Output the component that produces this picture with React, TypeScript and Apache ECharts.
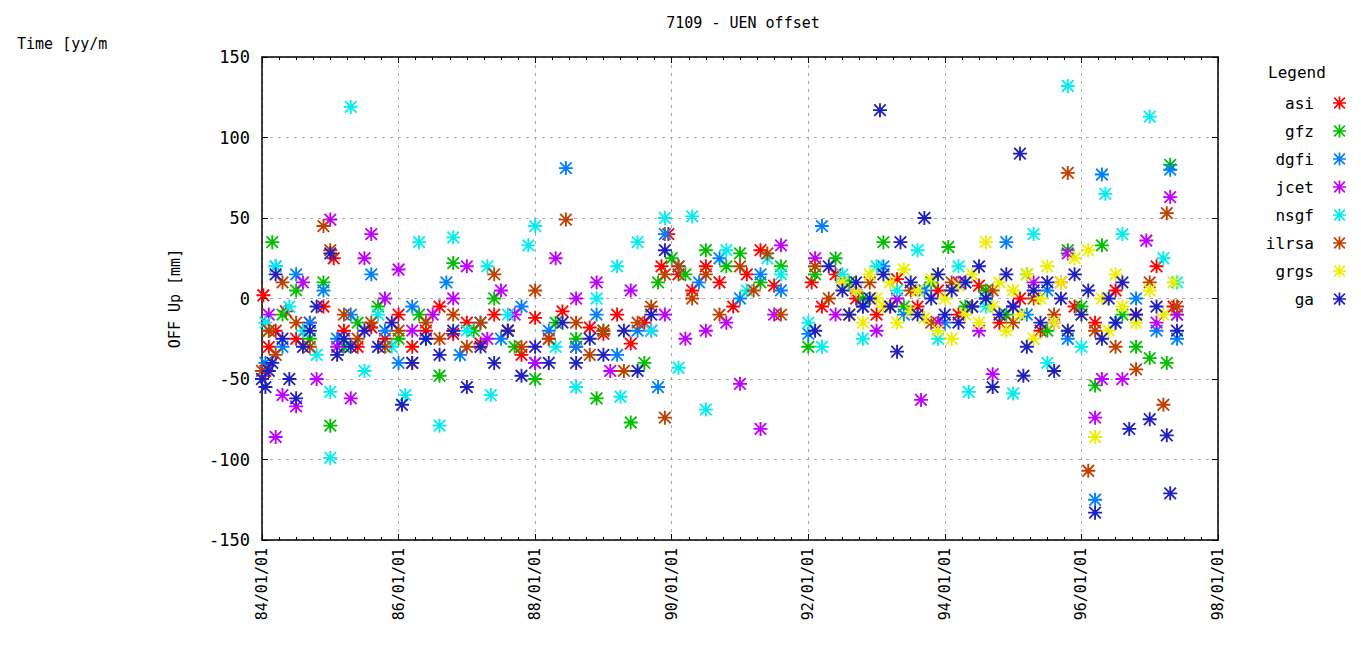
import React, { useRef, useEffect } from 'react';
import * as echarts from 'echarts';

const FONT = '"DejaVu Sans Mono", "Liberation Mono", monospace';
const STAR =
  'path://M0 5.2h12v1.6H0z M5.2 0h1.6v12h-1.6z M1.6 0.5L11.5 10.4L10.4 11.5L0.5 1.6z M10.4 0.5L11.5 1.6L1.6 11.5L0.5 10.4z';

const xTicks = [84, 86, 88, 90, 92, 94, 96, 98];
const yTicks = [-150, -100, -50, 0, 50, 100, 150];

const seriesNames = ['asi', 'gfz', 'dgfi', 'jcet', 'nsgf', 'ilrsa', 'grgs', 'ga'];
const seriesColors = ['#ff0000', '#00c000', '#0080ff', '#c000ff', '#00eeee', '#c04000', '#eeee00', '#2020c0'];

const asi = [[84.02,2],[84.05,-45],[84.1,-30],[84.2,-20],[84.35,-8],[84.5,-25],[84.7,-15],[84.9,-5],[85.05,25],[85.2,-20],[85.4,-30],[85.6,-18],[85.8,-25],[86.0,-10],[86.2,-30],[86.4,-20],[86.6,-5],[86.8,-22],[87.0,-15],[87.2,-28],[87.4,-10],[87.6,-20],[87.8,-35],[88.0,-12],[88.2,-25],[88.4,-8],[88.6,-30],[88.8,-18],[89.0,-22],[89.2,-10],[89.4,-28],[89.6,-15],[89.85,20],[89.95,40],[90.1,15],[90.3,5],[90.5,20],[90.7,10],[90.9,-5],[91.1,15],[91.3,30],[91.5,8],[92.05,10],[92.2,-5],[92.4,15],[92.7,0],[93.0,-10],[93.3,12],[93.6,-5],[93.9,5],[94.2,-10],[94.5,8],[94.8,-15],[95.1,0],[95.4,-20],[95.7,10],[95.9,-5],[96.2,-15],[96.5,5],[96.8,-10],[97.1,20],[97.35,-5]];
const gfz = [[84.1,-20],[84.15,35],[84.3,-10],[84.5,5],[84.7,-25],[84.9,10],[85.0,-79],[85.2,-30],[85.4,-15],[85.7,-5],[86.0,-25],[86.3,-10],[86.6,-48],[86.8,22],[87.1,-20],[87.4,0],[87.7,-30],[88.0,-50],[88.3,-15],[88.6,-25],[88.9,-62],[89.0,-20],[89.4,-77],[89.6,-40],[89.8,10],[90.0,25],[90.2,15],[90.5,30],[90.8,20],[91.0,28],[91.3,10],[91.6,20],[92.0,-30],[92.1,15],[92.4,25],[92.6,10],[92.8,0],[93.1,35],[93.4,-5],[93.8,10],[94.05,32],[94.3,-5],[94.6,5],[94.9,-10],[95.2,15],[95.5,-20],[95.8,30],[96.0,-5],[96.2,-54],[96.3,33],[96.6,-10],[96.8,-30],[97.0,-37],[97.25,-40],[97.3,83],[97.4,-10]];
const dgfi = [[84.05,-40],[84.2,20],[84.3,-30],[84.5,15],[84.7,-15],[84.9,5],[85.1,-25],[85.3,-10],[85.6,15],[85.8,-20],[86.0,-40],[86.2,-5],[86.4,-25],[86.7,10],[86.9,-35],[87.2,-15],[87.5,-25],[87.8,-5],[88.0,-40],[88.2,-20],[88.45,81],[88.6,-30],[88.9,-10],[89.2,-35],[89.5,-20],[89.8,-55],[89.9,40],[90.1,20],[90.4,10],[90.7,25],[91.0,0],[91.3,15],[91.6,5],[92.0,-22],[92.2,45],[92.5,10],[92.8,-5],[93.1,20],[93.4,-10],[93.7,5],[94.0,-15],[94.3,10],[94.6,0],[94.9,35],[95.2,-10],[95.5,5],[95.8,-25],[96.2,-125],[96.3,77],[96.5,-15],[96.8,0],[97.1,-20],[97.3,80],[97.4,-25]];
const jcet = [[84.1,-10],[84.2,-86],[84.3,-60],[84.5,-67],[84.6,10],[84.8,-50],[85.0,49],[85.1,-30],[85.3,-62],[85.5,25],[85.6,40],[85.8,0],[86.0,18],[86.2,-20],[86.5,-10],[86.8,0],[87.0,20],[87.3,-25],[87.5,5],[87.7,-10],[88.0,-40],[88.3,25],[88.6,0],[88.9,10],[89.1,-45],[89.4,5],[89.7,-20],[89.9,-10],[90.2,-25],[90.5,-20],[90.8,-15],[91.0,-53],[91.3,-81],[91.5,-10],[91.6,33],[92.1,25],[92.4,-10],[92.7,5],[93.0,-20],[93.3,0],[93.65,-63],[93.9,-15],[94.2,10],[94.5,-20],[94.7,-47],[95.0,-5],[95.3,10],[95.6,-15],[95.8,28],[96.2,-74],[96.3,-50],[96.6,-50],[96.95,36],[97.1,-15],[97.3,63],[97.4,-10]];
const nsgf = [[84.05,-15],[84.2,20],[84.4,-5],[84.6,-20],[84.8,-35],[85.0,-58],[85.0,-99],[85.3,119],[85.5,-45],[85.7,-10],[85.9,-30],[86.1,-60],[86.3,35],[86.6,-79],[86.8,38],[87.0,-20],[87.3,20],[87.35,-60],[87.6,-10],[87.9,33],[88.0,45],[88.3,-30],[88.6,-55],[88.9,0],[89.2,20],[89.25,-61],[89.5,35],[89.7,-20],[89.9,50],[90.1,-43],[90.3,51],[90.5,-69],[90.8,30],[91.1,5],[91.4,25],[91.6,15],[92.0,-15],[92.2,-30],[92.5,15],[92.8,-25],[93.0,20],[93.3,5],[93.6,30],[93.9,-25],[94.2,20],[94.35,-58],[94.6,-5],[95.0,-59],[95.3,40],[95.5,-40],[95.8,132],[96.0,-30],[96.35,65],[96.6,40],[97.0,113],[97.2,25],[97.4,10]];
const ilrsa = [[84.0,-45],[84.1,-20],[84.2,-35],[84.3,10],[84.5,-15],[84.7,-30],[84.9,45],[85.0,30],[85.2,-10],[85.4,-25],[85.6,-15],[85.8,-30],[86.0,-20],[86.2,-40],[86.4,-15],[86.6,-25],[86.8,-10],[87.0,-30],[87.2,-15],[87.4,15],[87.6,-20],[87.8,-30],[88.0,5],[88.2,-25],[88.45,49],[88.6,-15],[88.8,-35],[89.0,-20],[89.3,-45],[89.5,-15],[89.7,-5],[89.9,-74],[89.9,15],[90.1,20],[90.3,0],[90.5,15],[90.7,-10],[91.0,20],[91.2,5],[91.4,28],[91.6,-10],[92.1,20],[92.3,0],[92.6,-10],[92.9,10],[93.2,-5],[93.5,5],[93.8,-15],[94.1,10],[94.4,-5],[94.7,5],[95.0,-15],[95.3,0],[95.6,-10],[95.8,78],[96.1,-107],[96.2,-20],[96.5,-30],[96.8,-44],[97.0,10],[97.2,-66],[97.25,53],[97.4,-5]];
const grgs = [[92.5,10],[92.6,-10],[92.7,5],[92.8,-15],[92.9,15],[93.0,0],[93.1,-5],[93.2,10],[93.3,-15],[93.4,18],[93.5,-8],[93.6,5],[93.7,-12],[93.8,12],[93.9,-20],[94.0,0],[94.1,-25],[94.2,8],[94.3,-10],[94.4,15],[94.5,-15],[94.6,35],[94.7,-5],[94.8,10],[94.9,-20],[95.0,5],[95.1,-10],[95.2,15],[95.3,-25],[95.4,0],[95.5,20],[95.6,-15],[95.7,10],[95.8,-20],[95.9,25],[96.0,-10],[96.1,30],[96.2,-86],[96.3,0],[96.4,-20],[96.5,15],[96.6,-5],[96.8,-15],[97.0,5],[97.2,-10],[97.35,10]];
const ga = [[84.0,-50],[84.05,-55],[84.1,-45],[84.15,-40],[84.2,15],[84.3,-25],[84.4,-50],[84.5,-62],[84.6,-30],[84.7,-20],[84.8,-5],[85.0,28],[85.1,-35],[85.2,-25],[85.3,-30],[85.5,-20],[85.7,-30],[85.9,-15],[86.05,-66],[86.2,-40],[86.4,-25],[86.6,-35],[86.8,-20],[87.0,-55],[87.2,-30],[87.4,-40],[87.6,-20],[87.8,-48],[88.0,-30],[88.2,-40],[88.4,-15],[88.6,-40],[88.8,-25],[89.0,-35],[89.3,-20],[89.5,-45],[89.7,-10],[89.9,30],[92.1,-20],[92.3,20],[92.5,5],[92.6,-10],[92.7,10],[92.8,-5],[92.9,0],[93.05,117],[93.1,15],[93.2,-5],[93.3,-33],[93.35,35],[93.5,10],[93.6,-10],[93.7,50],[93.8,0],[93.9,15],[94.0,-10],[94.1,5],[94.2,-15],[94.3,10],[94.4,-5],[94.5,20],[94.6,0],[94.7,-55],[94.8,-10],[94.9,15],[95.0,-5],[95.1,90],[95.15,-48],[95.2,-30],[95.3,5],[95.4,-15],[95.5,10],[95.6,-45],[95.7,0],[95.8,-20],[95.9,15],[96.0,-10],[96.1,5],[96.2,-133],[96.3,-25],[96.4,0],[96.5,-15],[96.6,10],[96.7,-81],[96.8,-10],[97.0,-75],[97.1,-5],[97.25,-85],[97.3,-121],[97.4,-20]];

const seriesData = [asi, gfz, dgfi, jcet, nsgf, ilrsa, grgs, ga];

export default function App() {
  const ref = useRef<HTMLDivElement>(null);

  useEffect(() => {
    if (!ref.current) return;
    const chart = echarts.init(ref.current, null, { renderer: 'svg' });
    const tickStyle = { show: true, inside: true, length: 6, lineStyle: { color: '#000' } };
    const axisBase = {
      type: 'value' as const,
      axisLine: { show: true, onZero: false, lineStyle: { color: '#000', width: 1.5 } },
      axisTick: tickStyle,
    };
    chart.setOption({
      animation: false,
      title: {
        text: '7109 - UEN offset',
        left: 730,
        top: 2,
        textAlign: 'center',
        textStyle: { fontFamily: FONT, fontSize: 15, fontWeight: 'normal', color: '#000' },
      },
      graphic: [
        { type: 'text', left: 9, top: 28, style: { text: 'Time [yy/m', font: `15px ${FONT}`, fill: '#000' } },
        { type: 'text', left: 1260, top: 56, style: { text: 'Legend', font: `16px ${FONT}`, fill: '#000' } },
      ],
      legend: {
        orient: 'vertical',
        right: 2,
        top: 82,
        align: 'right',
        itemWidth: 13,
        itemHeight: 13,
        itemGap: 12,
        icon: STAR,
        textStyle: { fontFamily: FONT, fontSize: 16, color: '#000', padding: [0, 14, 0, 0] },
        data: seriesNames,
      },
      grid: { left: 254, right: 135, top: 49, bottom: 104 },
      xAxis: [
        {
          ...axisBase,
          min: 84,
          max: 98,
          interval: 2,
          minorTick: { show: true, splitNumber: 8, length: 3, lineStyle: { color: '#000' } },
          splitLine: { show: true, lineStyle: { color: '#aaa', type: [3, 5] } },
          axisLabel: {
            rotate: 90,
            margin: 8,
            fontFamily: FONT,
            fontSize: 15,
            color: '#000',
            formatter: (v: number) => (xTicks.includes(v) ? `${v}/01/01` : ''),
          },
        },
        {
          ...axisBase,
          position: 'top',
          min: 84,
          max: 98,
          interval: 2,
          minorTick: { show: true, splitNumber: 8, length: 3, lineStyle: { color: '#000' } },
          axisLabel: { show: false },
          splitLine: { show: false },
        },
      ],
      yAxis: [
        {
          ...axisBase,
          min: -150,
          max: 150,
          interval: 50,
          name: 'OFF Up [mm]',
          nameLocation: 'middle',
          nameGap: 80,
          nameTextStyle: { fontFamily: FONT, fontSize: 15, color: '#000' },
          splitLine: { show: true, lineStyle: { color: '#aaa', type: [3, 5] } },
          axisLabel: {
            fontFamily: FONT,
            fontSize: 17,
            color: '#000',
            margin: 12,
            formatter: (v: number) => (yTicks.includes(v) ? String(v) : ''),
          },
        },
        {
          ...axisBase,
          position: 'right',
          min: -150,
          max: 150,
          interval: 50,
          axisLabel: { show: false },
          splitLine: { show: false },
        },
      ],
      series: seriesNames.map((name, i) => ({
        name,
        type: 'scatter',
        symbol: STAR,
        symbolSize: 14,
        itemStyle: { color: seriesColors[i], opacity: 1 },
        data: seriesData[i],
      })),
    });
    return () => chart.dispose();
  }, []);

  return <div ref={ref} style={{ width: 1345, height: 636 }} />;
}
